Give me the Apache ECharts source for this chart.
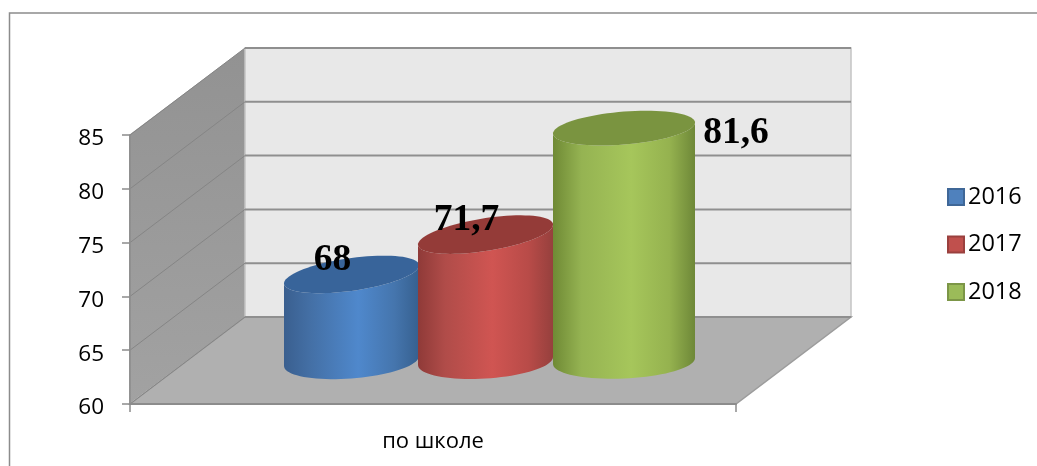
<!DOCTYPE html>
<html><head><meta charset="utf-8">
<style>html,body{margin:0;padding:0;background:#fff}#c{width:1037px;height:466px}</style>
<script src="https://cdn.jsdelivr.net/npm/echarts@6/dist/echarts.min.js"></script>
</head><body><div id="c"></div>
<script>
const categories = ['по школе'];
const seriesNames = ['2016', '2017', '2018'];
const values2016 = [68];
const values2017 = [71.7];
const values2018 = [81.6];
const yTicks = { min: 60, max: 85, interval: 5 };

// depth of the 3D box in px (visual construction, not data)
const DEPTH_X = 115, DEPTH_Y = -87;
const looks = [
  { body: ['#3a5f8f','#4470a6','#4f88cc','#4575ad','#36608f'], top: '#38649a', swatch: '#4f81bd', edge: '#3f6797', left: 284, right: 419, tiltTop: 9, tiltBot: 5, lx: -19, ly: -14 },
  { body: ['#8f3a38','#b04c49','#d05552','#b84b48','#96403d'], top: '#943b38', swatch: '#c0504d', edge: '#9a403e', left: 418, right: 553, tiltTop: 10, tiltBot: 4, lx: -19, ly: -14 },
  { body: ['#6f8a35','#95b352','#a6c65b','#95b24f','#6e8838'], top: '#7a9440', swatch: '#9bbb59', edge: '#7c9647', left: 553, right: 695, tiltTop: 5.5, tiltBot: 3, lx: 112, ly: 5 }
];

function renderWalls(params, api) {
  const cs = params.coordSys;
  const x0 = cs.x, x1 = cs.x + cs.width;
  const y0 = api.coord([0, yTicks.min])[1];
  const yTop = api.coord([0, yTicks.max])[1];
  const dx = DEPTH_X, dy = DEPTH_Y;
  const kids = [];
  kids.push({ type: 'polygon', shape: { points: [[x0 - 1, yTop],[x0+dx, yTop+dy],[x0+dx, y0+dy],[x0 - 1, y0]] },
    style: { fill: { type:'linear',x:0,y:0,x2:0,y2:1,colorStops:[{offset:0,color:'#929292'},{offset:1,color:'#a2a2a2'}] } } });
  kids.push({ type: 'rect', shape: { x: x0+dx, y: yTop+dy, width: x1-x0, height: y0-yTop },
    style: { fill: '#e8e8e8', stroke: '#c4c4c4', lineWidth: 1.5 } });
  kids.push({ type: 'polygon', shape: { points: [[x0, y0],[x0+dx, y0+dy],[x1+dx, y0+dy],[x1, y0]] },
    style: { fill: '#b0b0b0', stroke: '#9c9c9c', lineWidth: 1.5 } });
  for (let v = yTicks.min; v <= yTicks.max; v += yTicks.interval) {
    const y = api.coord([0, v])[1];
    kids.push({ type: 'line', shape: { x1: x0+dx, y1: y+dy, x2: x1+dx, y2: y+dy }, style: { stroke: '#8f8f8f', lineWidth: 2 } });
    kids.push({ type: 'line', shape: { x1: x0, y1: y, x2: x0+dx, y2: y+dy }, style: { stroke: '#858585', lineWidth: 1 } });
  }
  return { type: 'group', children: kids, silent: true };
}

function ellipsePts(cx, cy, a, b, s, t0, t1, n) {
  const pts = [];
  for (let i = 0; i <= n; i++) {
    const t = t0 + (t1 - t0) * i / n;
    pts.push([cx + a * Math.cos(t), cy + b * Math.sin(t) - s * Math.cos(t)]);
  }
  return pts;
}

function renderCyl(idx) {
  return function (params, api) {
    const v = api.value(1);
    const look = looks[idx];
    const pTop = api.coord([0, v]);
    const pBot = api.coord([0, yTicks.min]);
    // band-relative placement: the cylinders sit half way into the box depth
    const band = api.size([1, 0])[0];
    const base = pBot[0] + DEPTH_X / 2;
    const xl = base + (look.left - 490.5) / 606 * band, xr = base + (look.right - 490.5) / 606 * band;
    const cx = (xl + xr) / 2, a = (xr - xl) / 2;
    const yT = pTop[1] + DEPTH_Y / 2, yB = pBot[1] + DEPTH_Y / 2 + 0.5;
    const stops = look.body.map((c, i) => ({ offset: [0, 0.2, 0.55, 0.82, 1][i], color: c }));
    const label = String(v).replace('.', ',');
    return {
      type: 'group',
      children: [
        { type: 'polygon', shape: { points: ellipsePts(cx, yB, a, 17.5, look.tiltBot, 0, Math.PI, 40).concat(ellipsePts(cx, yT, a, 16.5, look.tiltTop, Math.PI, 0, 40)) },
          style: { fill: { type: 'linear', x: 0, y: 0, x2: 1, y2: 0, colorStops: stops } } },
        { type: 'polygon', shape: { points: ellipsePts(cx, yT, a, 16.5, look.tiltTop, 0, Math.PI * 2, 80) },
          style: { fill: look.top } },
        { type: 'text', z2: 20, style: { text: label, x: cx + look.lx, y: yT + look.ly, align: 'center', verticalAlign: 'middle',
          font: 'bold 37.5px "Liberation Serif"', fill: '#000' } }
      ]
    };
  };
}

function cylSeries(name, data, idx) {
  return {
    name, type: 'custom', coordinateSystem: 'cartesian2d', z: 3 + idx,
    data: data.map((v, i) => [i, v]),
    encode: { x: 0, y: 1 },
    clip: false,
    itemStyle: { color: looks[idx].swatch, borderColor: looks[idx].edge, borderWidth: 1.5 },
    renderItem: renderCyl(idx)
  };
}

const chart = echarts.init(document.getElementById('c'), null, { renderer: 'canvas' });
chart.setOption({
  animation: false,
  backgroundColor: '#fff',
  graphic: [{ type: 'polyline', silent: true, shape: { points: [[9.5, 466],[9.5, 13],[1037, 13]] }, style: { stroke: '#8c8c8c', lineWidth: 1.5, fill: 'none' } }],
  grid: { left: 130, right: 1037 - 736, top: 135, bottom: 466 - 404 },
  xAxis: { type: 'category', data: categories, z: 6,
    axisLine: { lineStyle: { color: '#8c8c8c', width: 2 } },
    axisTick: { show: true, length: 8, lineStyle: { color: '#8c8c8c', width: 1.5 } },
    axisLabel: { color: '#000', fontFamily: 'Open Sans', fontSize: 22, margin: 27 } },
  yAxis: { type: 'value', min: yTicks.min, max: yTicks.max, interval: yTicks.interval, z: 6,
    axisLine: { show: true, lineStyle: { color: '#8c8c8c', width: 1.5 } },
    axisTick: { show: true, length: 8, lineStyle: { color: '#8c8c8c', width: 1.5 } },
    splitLine: { show: false },
    axisLabel: { color: '#000', fontFamily: 'Open Sans', fontSize: 22.5, margin: 26, verticalAlign: 'top', lineHeight: 8 } },
  legend: { show: true, orient: 'vertical', left: 947, top: 185, padding: 0, itemWidth: 16, itemHeight: 16, itemGap: 23.5, icon: 'rect',
    data: seriesNames, textStyle: { color: '#000', fontFamily: 'Open Sans', fontSize: 23.5, lineHeight: 16, padding: [0, 0, 0, -1] } },
  series: [
    { name: 'walls', type: 'custom', coordinateSystem: 'cartesian2d', z: 1, silent: true, clip: false,
      data: [[0, yTicks.min]], encode: { x: 0, y: 1 }, renderItem: renderWalls },
    cylSeries(seriesNames[0], values2016, 0),
    cylSeries(seriesNames[1], values2017, 1),
    cylSeries(seriesNames[2], values2018, 2)
  ]
});
</script></body></html>
